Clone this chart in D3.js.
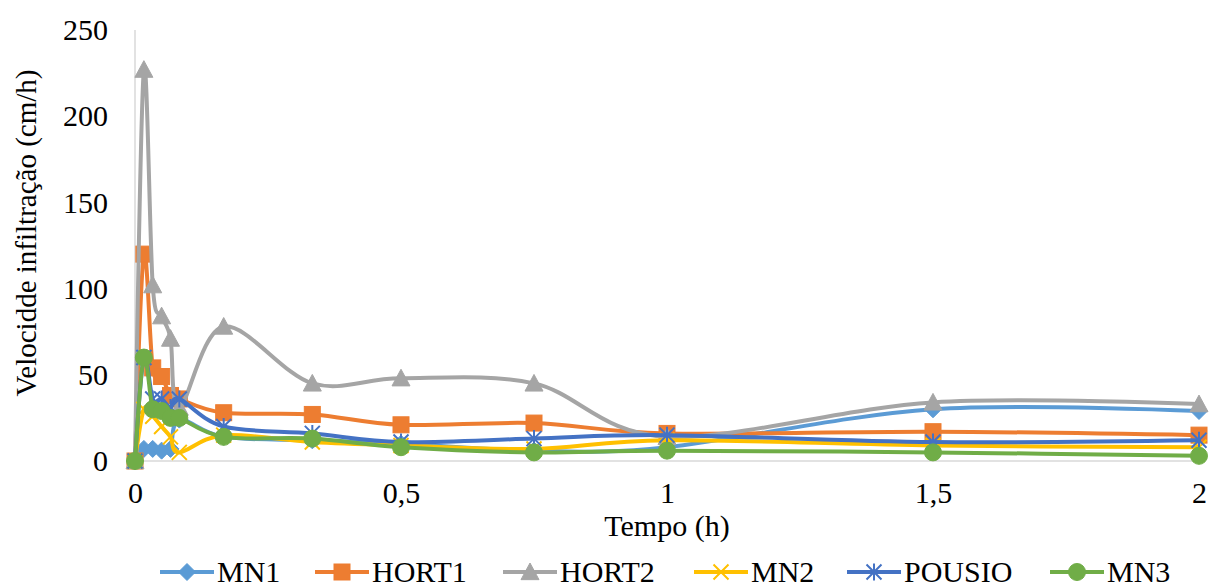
<!DOCTYPE html>
<html>
<head>
<meta charset="utf-8">
<script src="https://cdn.jsdelivr.net/npm/d3@7"></script>
<style>
  html, body { margin: 0; padding: 0; background: #fff; }
  svg text { font-family: "Liberation Serif", "Times New Roman", Times, Tinos, "DejaVu Serif", serif !important; fill: #000; }
</style>
</head>
<body>
<svg id="chart" width="1213" height="587"></svg>
<script>
// Time of each reading (hours)
const tempo = [0, 0.0167, 0.0333, 0.05, 0.0667, 0.0833, 0.1667, 0.3333, 0.5, 0.75, 1, 1.5, 2];

// Infiltration rate (cm/h) per plot
const mn1    = [0, 7, 7, 6, 7, 24, 14, 12, 10, 6, 8, 30, 29];
const hort1  = [0, 120, 54, 49, 38, 36, 28, 27, 21, 22, 16, 17, 15];
const hort2  = [0, 227, 102, 84, 71, 31, 78, 45, 48, 45, 14, 34, 33];
const mn2    = [0, 30, 26, 20, 14, 5, 15, 11, 9, 7, 12, 9, 8];
const pousio = [0, 60, 36, 36, 31, 36, 20, 16, 11, 13, 15, 11, 12];
const mn3    = [0, 60, 30, 29, 25, 25, 14, 13, 8, 5, 6, 5, 3];

const seriesNames = ["MN1", "HORT1", "HORT2", "MN2", "POUSIO", "MN3"];
const seriesValues = [mn1, hort1, hort2, mn2, pousio, mn3];

const yTicks = [0, 50, 100, 150, 200, 250];
const xTicks = [0, 0.5, 1, 1.5, 2];

const colors = ["#5B9BD5", "#ED7D31", "#A5A5A5", "#FFC000", "#4472C4", "#70AD47"];
const shapes = ["diamond", "square", "triangle", "x", "star", "circle"];

const svg = d3.select("#chart");
const x = d3.scaleLinear().domain([0, 2]).range([135, 1199]);
const y = d3.scaleLinear().domain([0, 250]).range([461, 30]);

const fmt = v => String(v).replace(".", ",");

// axis lines
svg.append("line").attr("x1", x(0)).attr("x2", x(0)).attr("y1", y(250)).attr("y2", y(0))
  .attr("stroke", "#D9D9D9").attr("stroke-width", 1.5);
svg.append("line").attr("x1", x(0)).attr("x2", x(2)).attr("y1", y(0)).attr("y2", y(0))
  .attr("stroke", "#D9D9D9").attr("stroke-width", 1.5);

// y tick labels
const yAxis = d3.axisLeft(y).tickValues(yTicks).tickSize(0).tickPadding(27).tickFormat(d => d);
const gy = svg.append("g").attr("transform", `translate(${x(0)},0)`).call(yAxis);
gy.select(".domain").remove();
gy.selectAll("text").attr("font-size", 30);

// x tick labels
const xAxis = d3.axisBottom(x).tickValues(xTicks).tickSize(0).tickPadding(21).tickFormat(fmt);
const gx = svg.append("g").attr("transform", `translate(0,${y(0)})`).call(xAxis);
gx.select(".domain").remove();
gx.selectAll("text").attr("font-size", 30);

// axis titles
svg.append("text").attr("x", x(1)).attr("y", 536).attr("text-anchor", "middle")
  .attr("font-size", 30).text("Tempo (h)");
svg.append("text").attr("transform", "translate(36,233) rotate(-90)").attr("text-anchor", "middle")
  .attr("font-size", 29).text("Velocidde infiltração (cm/h)");

// marker drawing
function marker(g, shape, color, cx, cy) {
  if (shape === "diamond") {
    const s = 8.5;
    g.append("path").attr("d", `M${cx},${cy - s}L${cx + s},${cy}L${cx},${cy + s}L${cx - s},${cy}Z`)
      .attr("fill", color).attr("stroke", color).attr("stroke-width", 1);
  } else if (shape === "square") {
    const s = 8;
    g.append("rect").attr("x", cx - s).attr("y", cy - s).attr("width", 2 * s).attr("height", 2 * s)
      .attr("fill", color).attr("stroke", color).attr("stroke-width", 1);
  } else if (shape === "triangle") {
    const s = 9;
    g.append("path").attr("d", `M${cx},${cy - s}L${cx + s},${cy + s * 0.85}L${cx - s},${cy + s * 0.85}Z`)
      .attr("fill", color).attr("stroke", color).attr("stroke-width", 1);
  } else if (shape === "x") {
    const s = 7.5;
    g.append("path").attr("d", `M${cx - s},${cy - s}L${cx + s},${cy + s}M${cx - s},${cy + s}L${cx + s},${cy - s}`)
      .attr("fill", "none").attr("stroke", color).attr("stroke-width", 2);
  } else if (shape === "star") {
    const s = 7.5;
    g.append("path").attr("d", `M${cx - s},${cy - s}L${cx + s},${cy + s}M${cx - s},${cy + s}L${cx + s},${cy - s}M${cx},${cy - s - 1}L${cx},${cy + s + 1}`)
      .attr("fill", "none").attr("stroke", color).attr("stroke-width", 2);
  } else if (shape === "circle") {
    g.append("circle").attr("cx", cx).attr("cy", cy).attr("r", 8.5)
      .attr("fill", color).attr("stroke", color).attr("stroke-width", 1);
  }
}

// smoothed series lines with markers
const line = d3.line().x(d => x(d[0])).y(d => y(d[1])).curve(d3.curveCardinal.tension(0));
const plot = svg.append("g");
seriesValues.forEach((vals, i) => {
  const pts = tempo.map((t, j) => [t, vals[j]]);
  const g = plot.append("g");
  g.append("path").attr("d", line(pts)).attr("fill", "none")
    .attr("stroke", colors[i]).attr("stroke-width", 4).attr("stroke-linejoin", "round")
    .attr("stroke-linecap", "round");
  pts.forEach(p => marker(g, shapes[i], colors[i], x(p[0]), y(p[1])));
});

// legend: one row of entries, each a line sample with its marker and the name
const legendStarts = [160, 315, 503, 694, 847, 1050];
const ly = 572;
const legend = svg.append("g");
seriesNames.forEach((name, i) => {
  const lx = legendStarts[i];
  const g = legend.append("g");
  g.append("line").attr("x1", lx).attr("x2", lx + 54).attr("y1", ly).attr("y2", ly)
    .attr("stroke", colors[i]).attr("stroke-width", 4);
  marker(g, shapes[i], colors[i], lx + 27, ly);
  g.append("text").attr("x", lx + 57).attr("y", ly + 10).attr("font-size", 30).text(name);
});
</script>
</body>
</html>
